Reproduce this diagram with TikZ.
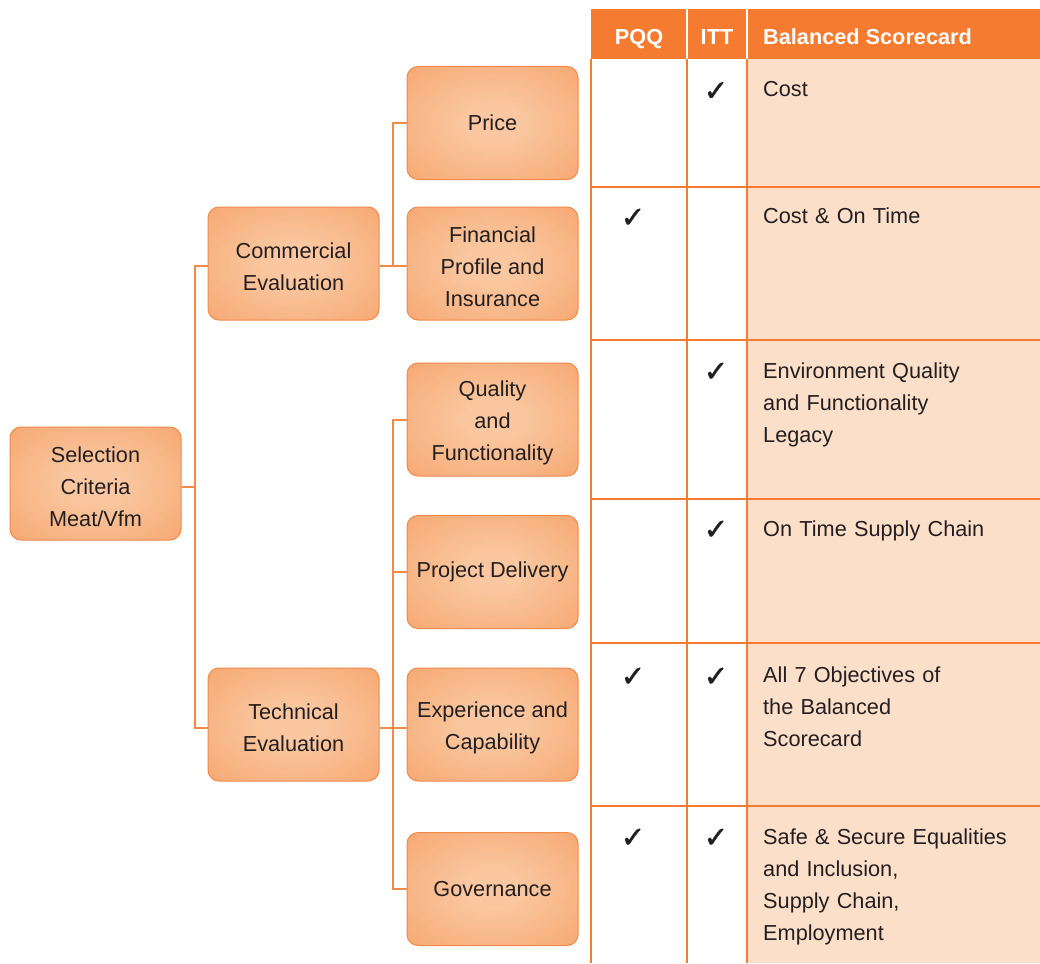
\documentclass[tikz,border=0pt]{standalone}
\usepackage{fontspec}
\setmainfont{Liberation Sans}
\newfontfamily\symfont[FakeBold=1.6]{DejaVu Sans}
\definecolor{hdr}{HTML}{F47B2F}
\definecolor{boxline}{HTML}{F0894A}
\definecolor{lineor}{HTML}{F28A45}
\definecolor{boxin}{HTML}{FAC7A0}
\definecolor{boxout}{HTML}{F4995B}
\definecolor{peach}{HTML}{FBDFC9}
\definecolor{ink}{HTML}{231F20}
\newcommand\tstrut{\rule{0pt}{22pt}}
\pgfdeclareradialshading{boxglow}{\pgfpoint{0bp}{0bp}}{color(0bp)=(boxin); color(8bp)=(boxin); color(50bp)=(boxout)}
\begin{document}
\begin{tikzpicture}[x=1pt,y=-1pt,
  box/.style={rectangle, rounded corners=11pt, draw=boxline, line width=1pt, shading=boxglow, minimum width=171pt, minimum height=113pt, inner sep=0pt, align=center, text=ink, font=\fontsize{21.7}{32}\selectfont},
  conn/.style={draw=lineor, line width=2pt},
  gridline/.style={draw=hdr, line width=2.2pt},
  cell/.style={anchor=base west, inner sep=0pt, text width=275pt, align=left, text=ink, font=\fontsize{21.7}{32.3}\selectfont},
  tick/.style={inner sep=0pt, text=ink, font=\symfont\fontsize{29}{29}\selectfont},
  head/.style={anchor=base, inner sep=0pt, text=white, font=\bfseries\fontsize{21.7}{26}\selectfont}]
\useasboundingbox (0,0) rectangle (1040,963);
% table
\fill[peach] (747,59.5) rectangle (1040,963);
\fill[hdr] (591,9.5) rectangle (1040,59.5);
\draw[white, line width=2pt] (687,9.5) -- (687,59.5) (747,9.5) -- (747,59.5);
\draw[gridline] (591,59.5) -- (591,963) (687,59.5) -- (687,963) (747,59.5) -- (747,963);
\draw[gridline] (590,187) -- (1040,187) (590,340) -- (1040,340) (590,499) -- (1040,499)
  (590,643) -- (1040,643) (590,806) -- (1040,806);
\node[head] (hpqq) at (639,45) {PQQ};
\node[head] (hitt) at (717,45) {ITT};
\node[head, anchor=base west] (hbs) at (763,45) {Balanced Scorecard};
\node[cell] (t1) at (763,96.5) {Cost};
\node[cell] (t2) at (763,223) {Cost \& On Time};
\node[cell] (t3) at (763,378) {Environment Quality\\and Functionality\\Legacy};
\node[cell] (t4) at (763,536) {On Time Supply Chain};
\node[cell] (t5) at (763,682) {All 7 Objectives of\\the Balanced\\Scorecard};
\node[cell] (t6) at (763,844) {Safe \& Secure Equalities\\and Inclusion,\\Supply Chain,\\Employment};
\node[tick] (k1i) at (716,91.5) {✓};
\node[tick] (k2p) at (633,218) {✓};
\node[tick] (k3i) at (716,372) {✓};
\node[tick] (k4i) at (716,530) {✓};
\node[tick] (k5p) at (633,677) {✓};
\node[tick] (k5i) at (716,677) {✓};
\node[tick] (k6p) at (633,838) {✓};
\node[tick] (k6i) at (716,838) {✓};
% tree
\node[box] (sel) at (95.5,483.5) {\tstrut Selection\\Criteria\\Meat/Vfm};
\node[box] (com) at (293.5,263.5) {\tstrut Commercial\\Evaluation};
\node[box] (tec) at (293.5,724.5) {\tstrut Technical\\Evaluation};
\node[box] (price) at (492.5,123) {Price};
\node[box] (fin) at (492.5,263.5) {\tstrut Financial\\Profile and\\Insurance};
\node[box] (qual) at (492.5,419.5) {\tstrut Quality\\and\\Functionality};
\node[box] (proj) at (492.5,572) {Project Delivery};
\node[box] (exp) at (492.5,724.5) {\tstrut Experience and\\Capability};
\node[box] (gov) at (492.5,889) {Governance};
\coordinate (s1) at (195,0);
\coordinate (s2) at (393,0);
\path ([yshift=-3pt]sel.east) coordinate (selR)
  ([yshift=-2.5pt]com.west) coordinate (comL) ([yshift=-2.5pt]com.east) coordinate (comR)
  ([yshift=-3.5pt]tec.west) coordinate (tecL) ([yshift=-3.5pt]tec.east) coordinate (tecR)
  ([yshift=-2.5pt]fin.west) coordinate (finL) (price.west) coordinate (priceL)
  (qual.west) coordinate (qualL) (proj.west) coordinate (projL)
  ([yshift=-3.5pt]exp.west) coordinate (expL) (gov.west) coordinate (govL);
\draw[conn] (selR) -- (selR -| s1);
\draw[conn] (comL) -| (s1 |- tecL) -- (tecL);
\draw[conn] (comR) -- (finL);
\draw[conn] (priceL) -| (s2 |- comR);
\draw[conn] (tecR) -- (expL);
\draw[conn] (qualL) -| (s2 |- govL) -- (govL);
\draw[conn] (projL) -- (projL -| s2);
\end{tikzpicture}
\end{document}
